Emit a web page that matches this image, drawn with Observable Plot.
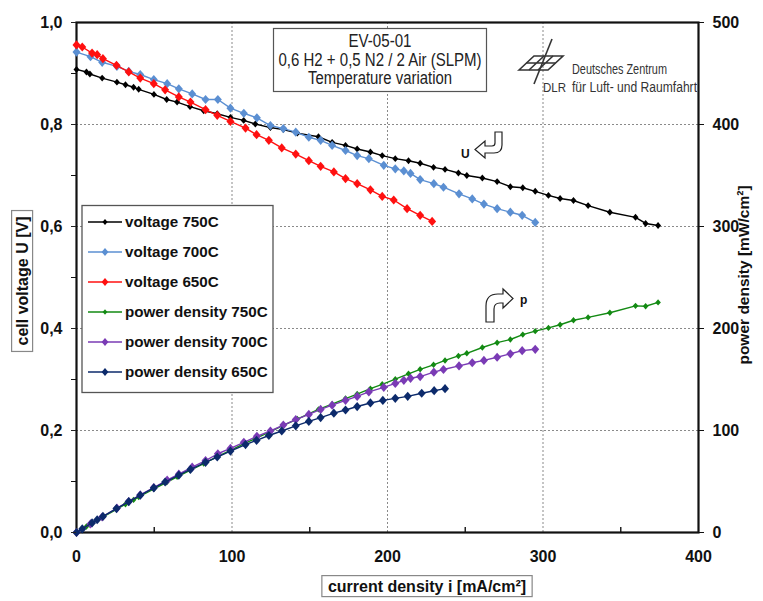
<!DOCTYPE html>
<html><head><meta charset="utf-8">
<script src="https://cdn.jsdelivr.net/npm/d3@7"></script>
<script src="https://cdn.jsdelivr.net/npm/@observablehq/plot@0.6"></script>
<style>
html,body{margin:0;padding:0;background:#fff;}
#chart{position:relative;width:763px;height:601px;overflow:hidden;}
</style></head><body><div id="chart"></div>
<script>
// ---- data (current density mA/cm², cell voltage V, power density mW/cm²) ----
const current750 = [0, 6.4, 8.6, 16.5, 26, 31.5, 36.7, 40, 49.8, 58, 64.7, 73, 81.8, 90.5, 99, 107.5, 115, 124.7, 133, 142, 155.6, 164.4, 173, 180.5, 189, 196.6, 205, 213.5, 221, 229.6, 237, 245.6, 251, 261, 270.5, 279, 287, 295, 303.5, 311, 319.6, 329, 343, 359.5, 366, 374];
const voltage750 = [0.908, 0.903, 0.899, 0.891, 0.883, 0.878, 0.873, 0.869, 0.859, 0.849, 0.844, 0.835, 0.827, 0.821, 0.814, 0.808, 0.801, 0.794, 0.79, 0.783, 0.776, 0.765, 0.759, 0.752, 0.746, 0.739, 0.733, 0.729, 0.724, 0.716, 0.712, 0.705, 0.700, 0.695, 0.688, 0.678, 0.676, 0.669, 0.661, 0.655, 0.651, 0.641, 0.628, 0.618, 0.606, 0.602];
const power750 = [0, 5.8, 7.7, 14.7, 23.0, 27.7, 32.0, 34.8, 42.8, 49.2, 54.6, 61.0, 67.6, 74.3, 80.6, 86.9, 92.1, 99.0, 105.1, 111.2, 120.7, 125.8, 131.3, 135.7, 141.0, 145.3, 150.3, 155.6, 160.0, 164.4, 168.7, 173.1, 175.7, 181.4, 186.1, 189.2, 194.0, 197.4, 200.6, 203.7, 208.1, 210.9, 215.4, 222.2, 221.8, 225.6];

const current700 = [0, 9, 16.5, 26, 33.6, 41, 49.7, 58.3, 65.8, 74.4, 83, 90.9, 99, 107.6, 116, 124.7, 133, 141, 149.4, 157, 164.4, 173, 180.5, 188, 197.6, 205, 210.5, 214.8, 221, 229.8, 236, 246, 254.5, 262, 270.5, 279, 286.6, 295];
const voltage700 = [0.942, 0.933, 0.922, 0.914, 0.904, 0.898, 0.888, 0.880, 0.870, 0.860, 0.849, 0.849, 0.832, 0.822, 0.813, 0.798, 0.792, 0.785, 0.775, 0.769, 0.759, 0.749, 0.739, 0.733, 0.720, 0.713, 0.709, 0.704, 0.692, 0.684, 0.677, 0.664, 0.654, 0.644, 0.635, 0.628, 0.622, 0.608];
const power700 = [0, 8.4, 15.2, 23.8, 30.4, 36.8, 44.1, 51.3, 57.2, 64.0, 70.5, 77.2, 82.4, 88.4, 94.3, 99.5, 105.3, 110.7, 115.8, 120.7, 124.8, 129.6, 133.4, 137.8, 142.3, 146.2, 149.2, 151.2, 152.9, 157.2, 159.8, 163.3, 166.4, 168.7, 171.8, 175.2, 178.3, 179.6];

const current650 = [0, 3.7, 10, 13.3, 17, 25.7, 33.6, 41, 49.7, 57, 65.8, 73.3, 83, 90.5, 99, 108.7, 115.8, 123.7, 132, 141, 149.4, 157, 165.5, 173, 180.5, 189, 196.6, 204, 212.6, 221, 228.7];
const voltage650 = [0.956, 0.952, 0.940, 0.937, 0.929, 0.916, 0.903, 0.891, 0.880, 0.868, 0.854, 0.844, 0.829, 0.818, 0.806, 0.793, 0.780, 0.769, 0.754, 0.742, 0.729, 0.718, 0.707, 0.694, 0.684, 0.672, 0.659, 0.652, 0.635, 0.622, 0.610];
const currentP650 = [0, 3.7, 10, 13.3, 17, 25.7, 33.6, 41, 49.7, 57, 65.8, 73.3, 83, 90.5, 99, 108.7, 115.8, 123.7, 132, 141, 149.4, 157, 165.5, 173, 180.5, 189, 197, 205, 213, 222, 230, 237];
const power650 = [0, 3.5, 9.4, 12.5, 15.8, 23.5, 30.3, 36.5, 43.7, 49.5, 56.2, 61.9, 68.8, 74.0, 79.8, 86.2, 90.3, 95.1, 99.5, 104.6, 108.9, 112.7, 117.0, 120.1, 123.5, 127.0, 129.5, 131.5, 133.5, 136.5, 139.0, 141.0];

const seriesNames = ["voltage 750C", "voltage 700C", "voltage 650C", "power density 750C", "power density 700C", "power density 650C"];
const voltageTicks = [0, 0.2, 0.4, 0.6, 0.8, 1.0];
const voltageMinorTicks = [0.1, 0.3, 0.5, 0.7, 0.9];
const powerTicks = [0, 100, 200, 300, 400, 500];
const currentTicks = [0, 100, 200, 300, 400];
const currentMinorTicks = [50, 150, 250, 350];
const boxLines = ["EV-05-01", "0,6 H2 + 0,5 N2 / 2 Air (SLPM)", "Temperature variation"];

// ---- styles ----
const styles = {
  "voltage 750C":       {color: "#000000", r: 3.0},
  "voltage 700C":       {color: "#5b8fd2", r: 4.0},
  "voltage 650C":       {color: "#ff1010", r: 4.0},
  "power density 750C": {color: "#138a13", r: 2.8},
  "power density 700C": {color: "#7a3bb5", r: 4.0},
  "power density 650C": {color: "#0c2a6b", r: 4.0}
};
const POWER_PER_VOLT = 500; // right axis 0..500 mW/cm² aligned with left axis 0..1 V

const zip = (xs, ys, k, scale = 1) => xs.map((x, i) => ({x, y: ys[i] / scale, key: k}));
const seriesData = {
  "voltage 750C": zip(current750, voltage750, "voltage 750C"),
  "voltage 700C": zip(current700, voltage700, "voltage 700C"),
  "voltage 650C": zip(current650, voltage650, "voltage 650C"),
  "power density 750C": zip(current750, power750, "power density 750C", POWER_PER_VOLT),
  "power density 700C": zip(current700, power700, "power density 700C", POWER_PER_VOLT),
  "power density 650C": zip(currentP650, power650, "power density 650C", POWER_PER_VOLT)
};

const diamondSym = {
  draw(ctx, size) {
    const r = Math.sqrt(size / Math.PI);
    ctx.moveTo(0, -r * 1.15); ctx.lineTo(r, 0); ctx.lineTo(0, r * 1.15); ctx.lineTo(-r, 0); ctx.closePath();
  }
};
const comma = d => d3.format(".1f")(d).replace(".", ",");
const FONT = "'Liberation Sans', Arial, Helvetica, sans-serif";

const seriesMarks = seriesNames.flatMap(n => [
  Plot.line(seriesData[n], {x: "x", y: "y", stroke: styles[n].color, strokeWidth: 1.4}),
  Plot.dot(seriesData[n], {x: "x", y: "y", r: styles[n].r, symbol: diamondSym, fill: styles[n].color, stroke: "none"})
]);

const plot = Plot.plot({
  width: 763, height: 601,
  marginLeft: 76, marginRight: 65, marginTop: 22, marginBottom: 69,
  x: {domain: [0, 400]},
  y: {domain: [0, 1]},
  style: {fontFamily: FONT, background: "white", color: "#111"},
  marks: [
    Plot.gridX([100, 200, 300], {stroke: "#8a8a8a", strokeOpacity: 1, strokeDasharray: "2,2"}),
    Plot.gridY([0.2, 0.4, 0.6, 0.8], {stroke: "#8a8a8a", strokeOpacity: 1, strokeDasharray: "2,2"}),
    Plot.ruleX(currentMinorTicks, {y1: 0, y2: 0.01, stroke: "#222", strokeWidth: 1.5}),
    Plot.frame({stroke: "#111", strokeWidth: 2.2}),
    ...seriesMarks,
    Plot.axisY(voltageTicks, {anchor: "left", tickSize: 5, tickPadding: 9, tickFormat: comma, fontSize: 16, fontWeight: "bold", label: null, stroke: "#222"}),
    Plot.axisY(voltageMinorTicks, {anchor: "left", tickSize: 5, tickFormat: () => "", label: null}),
    Plot.axisY(powerTicks.map(d => d / POWER_PER_VOLT), {anchor: "right", tickSize: 5, tickPadding: 9, tickFormat: d => String(Math.round(d * POWER_PER_VOLT)), fontSize: 16, fontWeight: "bold", label: null}),
    Plot.axisX(currentTicks, {anchor: "bottom", tickSize: 0, tickPadding: 18, fontSize: 16, fontWeight: "bold", label: null})
  ]
});
document.getElementById("chart").appendChild(plot);

// ---- decorations: axis titles, legend, info box, logo, arrows ----
const svg = d3.select(plot);
const deco = svg.append("g").attr("font-family", FONT).attr("text-anchor", "start");

function boxedText(g, text, cx, cy, rotate, opts) {
  const gg = g.append("g").attr("transform", `translate(${cx},${cy}) rotate(${rotate})`);
  const rect = gg.append("rect");
  const t = gg.append("text").attr("text-anchor", "middle").attr("dy", "0.35em")
    .attr("font-size", opts.size).attr("font-weight", "bold").attr("fill", "#111").text(text);
  const bb = t.node().getBBox();
  if (opts.box) rect.attr("x", bb.x - opts.padX).attr("y", bb.y - opts.padY).attr("width", bb.width + 2 * opts.padX)
    .attr("height", bb.height + 2 * opts.padY).attr("fill", "white").attr("stroke", "#888").attr("stroke-width", 1.2);
  else rect.remove();
}
boxedText(deco, "cell voltage U [V]", 22, 281, -90, {size: 16, box: true, padX: 6, padY: 2});
boxedText(deco, "power density [mW/cm²]", 744, 275, -90, {size: 15.5, box: false});
boxedText(deco, "current density i [mA/cm²]", 427, 586, 0, {size: 16, box: true, padX: 6, padY: 2});

// Info box
const info = deco.append("g");
info.append("rect").attr("x", 273.5).attr("y", 28.5).attr("width", 213).attr("height", 63).attr("fill", "white").attr("stroke", "#555").attr("stroke-width", 1.2);
const infoLen = [63, 203, 144];
const infoBase = [46.5, 65.5, 84];
boxLines.forEach((s, i) => {
  info.append("text").attr("x", 380).attr("y", infoBase[i]).attr("text-anchor", "middle")
    .attr("font-size", 17.5).attr("fill", "#222").attr("textLength", infoLen[i]).attr("lengthAdjust", "spacingAndGlyphs").text(s);
});

// Legend
const lg = deco.append("g");
lg.append("rect").attr("x", 82).attr("y", 205.5).attr("width", 191).attr("height", 187).attr("fill", "white").attr("stroke", "#555").attr("stroke-width", 1.3);
const diamondPath = r => `M0,${-r * 1.15}L${r},0L0,${r * 1.15}L${-r},0Z`;
seriesNames.forEach((n, k) => {
  const y = 222 + k * 30;
  lg.append("line").attr("x1", 88).attr("x2", 122).attr("y1", y).attr("y2", y).attr("stroke", styles[n].color).attr("stroke-width", 1.4);
  lg.append("path").attr("transform", `translate(105,${y})`).attr("d", diamondPath(styles[n].r * 0.85)).attr("fill", styles[n].color);
  lg.append("text").attr("x", 125).attr("y", y).attr("dy", "0.35em").attr("text-anchor", "start").attr("font-size", 15.2).attr("font-weight", "bold").attr("fill", "#111").text(n);
});

// DLR logo
const logo = deco.append("g").attr("fill", "none").attr("stroke", "#333").attr("stroke-width", 1.6);
logo.append("path").attr("d", "M519,70 L534,56 L563,56 L548,70 Z");
logo.append("path").attr("d", "M526.5,63 L555.5,63 M529,70 L544,56 M538,70 L553,56");
logo.append("path").attr("d", "M552,39 L534,84");
deco.append("text").attr("x", 543).attr("y", 92).attr("text-anchor", "start").attr("font-size", 13).attr("fill", "#333").attr("textLength", 23).attr("lengthAdjust", "spacingAndGlyphs").text("DLR");
deco.append("text").attr("x", 572).attr("y", 74).attr("text-anchor", "start").attr("font-size", 14).attr("fill", "#333").attr("textLength", 95).attr("lengthAdjust", "spacingAndGlyphs").text("Deutsches Zentrum");
deco.append("text").attr("x", 572).attr("y", 92).attr("text-anchor", "start").attr("font-size", 14).attr("fill", "#333").attr("textLength", 125).attr("lengthAdjust", "spacingAndGlyphs").text("für Luft- und Raumfahrt");

// U / p arrows
const arr = deco.append("g").attr("fill", "white").attr("stroke", "#222").attr("stroke-width", 1.2);
arr.append("path").attr("d", "M495,132 L502,132 L502,145 Q502,153 494,153 L485,153 L485,158 L475,149.5 L485,141 L485,146 L492,146 Q495,146 495,143 Z");
arr.append("path").attr("d", "M486,322 L494,322 L494,309 Q494,303 500,303 L503,303 L503,308 L513,298.5 L503,289 L503,294 L498,294 Q486,294 486,306 Z");
deco.append("text").attr("x", 461).attr("y", 158).attr("text-anchor", "start").attr("font-size", 12).attr("font-weight", "bold").attr("fill", "#111").text("U");
deco.append("text").attr("x", 520).attr("y", 304).attr("text-anchor", "start").attr("font-size", 12).attr("font-weight", "bold").attr("fill", "#111").text("p");
</script>
</body></html>
